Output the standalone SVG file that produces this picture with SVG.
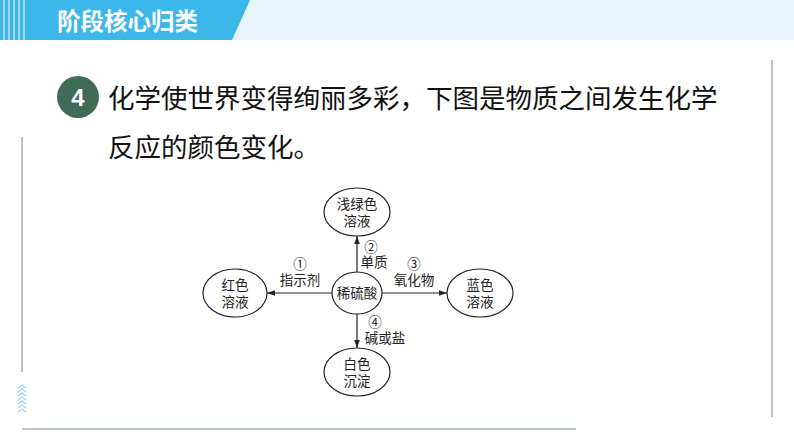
<svg xmlns="http://www.w3.org/2000/svg" width="794" height="447" viewBox="0 0 794 447">
<style>
.n{fill:#fff;stroke:#222;stroke-width:1.2}
.t{font-family:"Liberation Serif","Noto Sans CJK SC",serif;font-size:13.5px;fill:#222;text-anchor:middle}
.c{stroke:#222;stroke-width:1.2;fill:none;marker-end:url(#a)}
.m{font-family:"Liberation Serif","Noto Sans CJK SC",serif;font-size:26.5px;fill:#111}
</style>
<defs><marker id="a" viewBox="0 0 10 10" refX="10" refY="5" markerWidth="7" markerHeight="7" orient="auto"><path d="M0,1.5L10,5L0,8.5z" fill="#222"/></marker></defs>
<rect width="794" height="447" fill="#fff"/>
<rect x="0" y="0" width="794" height="40" fill="#e6f4fc"/>
<path d="M0,0H250L232,40H0z" fill="#3db6ea"/>
<g stroke="#fff" stroke-width="1"><path d="M4,0V40M9,0V40M14,0V40M19,0V40M24,0V40"/></g>
<text x="57" y="30" font-family="'Noto Sans CJK SC',sans-serif" font-weight="bold" font-size="23.5" fill="#fff">阶段核心归类</text>
<path d="M22,137V372M22,429H576M772,60V417" stroke="#a8b4bc" stroke-width="1.5"/>
<g fill="none" stroke="#9fd3ea" stroke-width="1.2"><path d="M18,388l4,-3l4,3M18,392l4,-3l4,3M18,396l4,-3l4,3M18,400l4,-3l4,3M18,404l4,-3l4,3M18,408l4,-3l4,3M18,412l4,-3l4,3"/></g>
<circle cx="78" cy="97" r="21" fill="#3f6b57"/>
<text x="78" y="106" font-family="'Liberation Sans',sans-serif" font-weight="bold" font-size="24" fill="#fff" text-anchor="middle">4</text>
<text class="m" x="108" y="108">化学使世界变得绚丽多彩，下图是物质之间发生化学</text>
<text class="m" x="108" y="157">反应的颜色变化。</text>
<g id="connectors">
<line class="c" x1="357" y1="272" x2="357" y2="236"/>
<line class="c" x1="332" y1="293" x2="267" y2="293"/>
<line class="c" x1="382" y1="293" x2="447" y2="293"/>
<line class="c" x1="357" y1="314" x2="357" y2="348"/>
<text class="t" x="371" y="252">②</text><text class="t" x="374" y="267">单质</text>
<text class="t" x="300" y="269">①</text><text class="t" x="300" y="285">指示剂</text>
<text class="t" x="414" y="269">③</text><text class="t" x="414" y="285">氧化物</text>
<text class="t" x="375" y="327">④</text><text class="t" x="385" y="343">碱或盐</text>
</g>
<g id="center"><ellipse class="n" cx="357" cy="293" rx="25" ry="21"/><text class="t" x="357" y="298">稀硫酸</text></g>
<g id="top"><ellipse class="n" cx="357" cy="212" rx="33" ry="24"/><text class="t" x="357" y="209">浅绿色</text><text class="t" x="357" y="226">溶液</text></g>
<g id="left"><ellipse class="n" cx="235" cy="293" rx="32" ry="24"/><text class="t" x="235" y="290">红色</text><text class="t" x="235" y="307">溶液</text></g>
<g id="right"><ellipse class="n" cx="480" cy="293" rx="33" ry="24"/><text class="t" x="480" y="290">蓝色</text><text class="t" x="480" y="307">溶液</text></g>
<g id="bottom"><ellipse class="n" cx="357" cy="372" rx="33" ry="24"/><text class="t" x="357" y="369">白色</text><text class="t" x="357" y="386">沉淀</text></g>
</svg>
